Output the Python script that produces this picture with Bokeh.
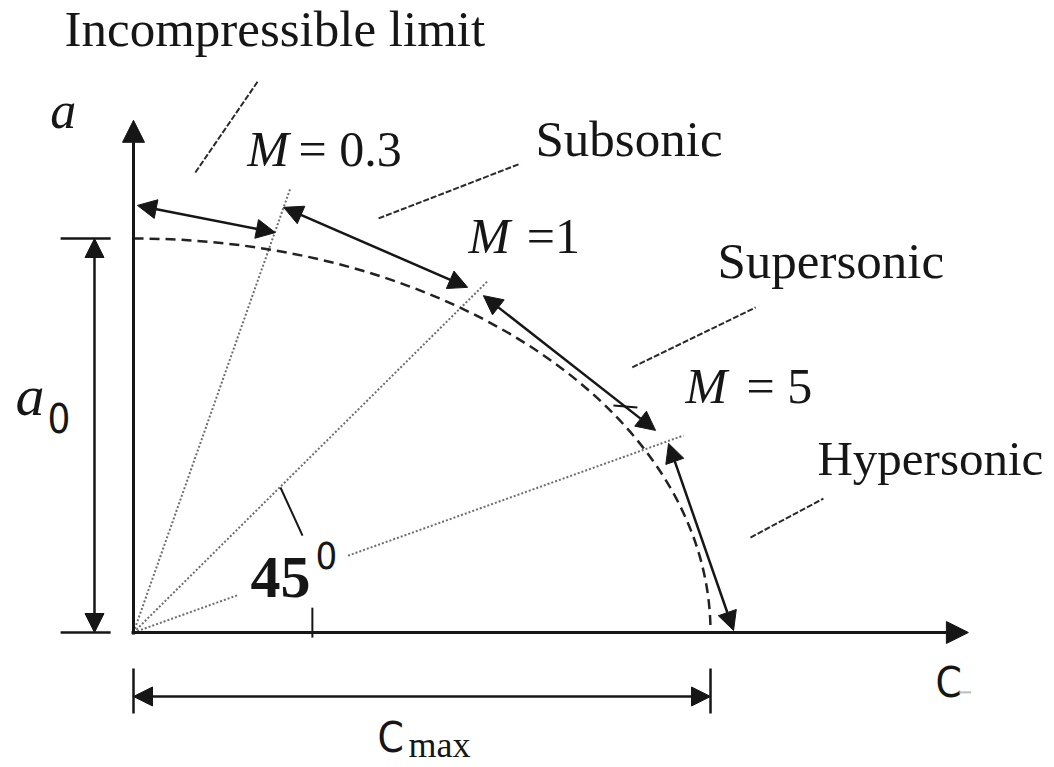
from bokeh.plotting import figure
from bokeh.models import Range1d, Arrow, NormalHead, ColumnDataSource
from bokeh.core.properties import value
from bokeh.embed import file_html
from bokeh.resources import INLINE

# ---------------- data (diagram units: a0 = 1) ----------------
A0 = 1.0                      # stagnation speed of sound
C_MAX = 1.4645                # maximum flow speed (dashed ellipse end)
regimes = ["Incompressible limit", "Subsonic", "Supersonic", "Hypersonic"]
seg_c_start = [0.010, 0.381, 0.888, 1.358]
seg_a_start = [1.084, 1.079, 0.855, 0.480]
seg_c_end = [0.360, 0.848, 1.325, 1.523]
seg_a_end = [1.015, 0.876, 0.513, 0.005]
mach_numbers = ["0.3", "1", "5"]
ray_c = [0.398, 0.898, 1.396]
ray_a = [1.127, 0.891, 0.500]
ray5_gap = [0.19, 0.39]       # fraction of the M=5 ray left blank for the angle label
tick_c = [0.454]
angle_text = "45"

# ---------------- layout ----------------
PX = 394.0
W, H = 1054, 767
x_range = Range1d(-133 / PX, (W - 133) / PX)
y_range = Range1d((632 - H) / PX, 632 / PX)

p = figure(width=W, height=H, x_range=x_range, y_range=y_range,
           output_backend="svg", toolbar_location=None, min_border=0,
           x_axis_type=None, y_axis_type=None)
p.xgrid.visible = False
p.ygrid.visible = False
p.outline_line_color = None
p.background_fill_color = "white"
p.border_fill_color = "white"

INK = "#161616"
SERIF = value("Liberation Serif")
NARROW = value("'Liberation Sans Narrow', 'DejaVu Sans Condensed', 'Liberation Sans', sans-serif")


def head(size):
    return NormalHead(size=size, fill_color=INK, line_color=INK, line_width=1)


def arrows(x0, y0, x1, y1, start=True, end=True, lw=2.5, size=18):
    src = ColumnDataSource(dict(x0=x0, y0=y0, x1=x1, y1=y1))
    p.add_layout(Arrow(start=head(size) if start else None,
                       end=head(size) if end else None,
                       x_start="x0", y_start="y0", x_end="x1", y_end="y1",
                       source=src, line_width=lw, line_color=INK))


def label(xs, ys, texts, font, size, style="normal"):
    # baseline correction for the renderer's alphabetic placement
    shift = 0.39 * size / PX
    p.text(x=xs, y=[y + shift for y in ys], text=texts, text_font=font,
           text_font_size=f"{size}px", text_font_style=style, text_color=INK,
           text_baseline="alphabetic", text_align="left")


# Mach rays (dotted)
rx0, ry0, rx1, ry1 = [], [], [], []
for i, (c, a) in enumerate(zip(ray_c, ray_a)):
    if i == 2:
        g0, g1 = ray5_gap
        rx0 += [0, c * g1]; ry0 += [0, a * g1]
        rx1 += [c * g0, c]; ry1 += [a * g0, a]
    else:
        rx0.append(0); ry0.append(0); rx1.append(c); ry1.append(a)
p.segment(rx0, ry0, rx1, ry1, line_color="#6e6e6e", line_width=2, line_dash="2 2")

# dashed velocity ellipse (quarter, cubic Bezier)
K = 0.5523
p.bezier(x0=[0], y0=[A0], x1=[C_MAX], y1=[0],
         cx0=[K * C_MAX], cy0=[A0], cx1=[C_MAX], cy1=[K * A0],
         line_color="#222222", line_width=2.5, line_dash="10 6")

# axes
arrows([0, -0.005], [-0.005, 0], [0, 2.119], [1.30, 0], start=False, lw=3, size=22)
p.segment(tick_c, [-0.013], tick_c, [0.063], line_color=INK, line_width=2)

# regime segments with double arrows
arrows(seg_c_start, seg_a_start, seg_c_end, seg_a_end, lw=2.5, size=19)
p.segment([1.218], [0.576], [1.279], [0.571], line_color=INK, line_width=2)

# a0 dimension
arrows([-0.099], [0], [-0.099], [A0], lw=2.5, size=19)
p.segment([-0.185, -0.185], [A0, 0], [-0.058, -0.058], [A0, 0], line_color=INK, line_width=2.5)

# c_max dimension
arrows([0], [-0.1624], [C_MAX], [-0.1624], lw=2.5, size=19)
p.segment([0, C_MAX], [-0.0914, -0.0914], [0, C_MAX], [-0.2056, -0.2056], line_color=INK, line_width=2.5)

# leader lines
p.segment([0.157, 0.622, 1.266, 1.566], [1.1675, 1.051, 0.673, 0.241],
          [0.317, 0.982, 1.579, 1.751], [1.401, 1.190, 0.825, 0.340],
          line_color="#2a2a2a", line_width=2, line_dash="6 2")
p.segment([0.373], [0.368], [0.429], [0.246], line_color=INK, line_width=2)

# texts
label([-0.1751, 1.0203, 1.482], [1.4822, 1.203, 0.8934], regimes[:3], SERIF, 51)
label([1.736], [0.393], regimes[3:], SERIF, 49)
label([0.289, 0.850, 1.401], [1.178, 0.957, 0.576], ["M", "M", "M"], SERIF, 50, "italic")
label([0.419, 0.998, 1.556], [1.178, 0.957, 0.576],
      ["= " + mach_numbers[0], "=" + mach_numbers[1], "= " + mach_numbers[2]], SERIF, 50)
# a labels
label([-0.211], [1.274], ["a"], SERIF, 52, "italic")
label([-0.2995], [0.543], ["a"], SERIF, 58, "italic")
label([-0.218], [0.505], ["0"], NARROW, 40)
# angle
label([0.297], [0.0812], [angle_text], SERIF, 60, "bold")
label([0.462], [0.157], ["0"], NARROW, 38)
# c labels
label([0.619, 2.0355], [-0.307, -0.1675], ["C", "C"], NARROW, 42)
label([0.698], [-0.320], ["max"], SERIF, 36)
p.segment([2.096], [-0.152], [2.126], [-0.152], line_color="#bbbbbb", line_width=2)

open("out.html", "w").write(file_html(p, INLINE))
